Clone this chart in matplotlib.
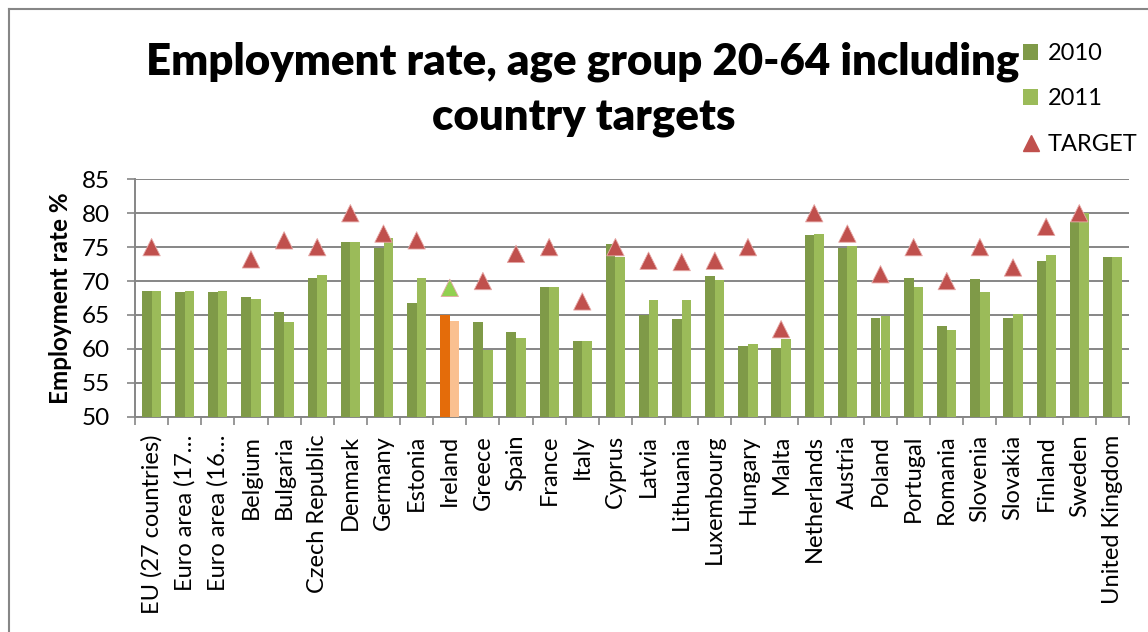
import numpy as np
import matplotlib.pyplot as plt
from matplotlib.patches import Patch
from matplotlib.lines import Line2D

plt.rcParams['font.family'] = ['Lato', 'DejaVu Sans']

countries = ["EU (27 countries)", "Euro area (17…", "Euro area (16…", "Belgium",
             "Bulgaria", "Czech Republic", "Denmark", "Germany", "Estonia", "Ireland",
             "Greece", "Spain", "France", "Italy", "Cyprus", "Latvia", "Lithuania",
             "Luxembourg", "Hungary", "Malta", "Netherlands", "Austria", "Poland",
             "Portugal", "Romania", "Slovenia", "Slovakia", "Finland", "Sweden",
             "United Kingdom"]

rate_2010 = [68.6, 68.4, 68.4, 67.6, 65.4, 70.4, 75.8, 74.9, 66.7, 65.0,
             64.0, 62.5, 69.1, 61.1, 75.4, 65.0, 64.4, 70.7, 60.4, 60.1,
             76.8, 74.9, 64.6, 70.5, 63.3, 70.3, 64.6, 73.0, 78.7, 73.6]

rate_2011 = [68.6, 68.5, 68.5, 67.3, 63.9, 70.9, 75.7, 76.3, 70.4, 64.1,
             59.9, 61.6, 69.1, 61.2, 73.6, 67.2, 67.2, 70.1, 60.7, 61.5,
             77.0, 75.2, 64.8, 69.1, 62.8, 68.4, 65.1, 73.8, 80.0, 73.6]

# national Europe 2020 targets (none for the euro-area aggregates and the UK)
target = [75, np.nan, np.nan, 73.2, 76, 75, 80, 77, 76, 69,
          70, 74, 75, 67, 75, 73, 72.8, 73, 75, 62.9,
          80, 77, 71, 75, 70, 75, 72, 78, 80, np.nan]

highlight = "Ireland"

green_dark = '#7F9A48'
green_light = '#9BBB59'
orange_dark = '#E46C0A'
orange_light = '#FAC090'
red_tri = '#C0504D'
green_tri = '#92D050'
grey = '#868686'

W, H = 1148, 632
fig = plt.figure(figsize=(W / 100, H / 100), dpi=100)
ax = fig.add_axes([135 / W, 1 - 416.7 / H, 994 / W, 237.4 / H])

x = np.arange(len(countries))
w = 0.29
col_a = [orange_dark if c == highlight else green_dark for c in countries]
col_b = [orange_light if c == highlight else green_light for c in countries]
col_t = [green_tri if c == highlight else red_tri for c in countries]

ax.bar(x - w / 2, rate_2010, w, color=col_a, zorder=3)
ax.bar(x + w / 2, rate_2011, w, color=col_b, zorder=3)
ax.scatter(x, target, marker='^', s=12.5 ** 2, c=col_t, edgecolors='#e6a8a6',
           linewidths=0.6, zorder=4, clip_on=False)

ax.set_xlim(-0.5, len(countries) - 0.5)
ax.set_ylim(50, 85)
ax.set_yticks(range(50, 86, 5))
ax.yaxis.grid(True, color=grey, linewidth=1.4, zorder=0)
ax.set_axisbelow(True)

ax.set_xticks(x)
ax.set_xticklabels(countries, rotation=90, ha='center', va='top', fontsize=17)
ax.set_xticks(np.arange(len(countries) + 1) - 0.5, minor=True)
ax.tick_params(axis='x', which='major', length=0, pad=13)
ax.tick_params(axis='x', which='minor', length=6, width=1.2, color=grey)
ax.tick_params(axis='y', length=6, width=1.2, color=grey, pad=12, labelsize=17.5)

for s in ['top', 'right']:
    ax.spines[s].set_visible(False)
for s in ['left', 'bottom']:
    ax.spines[s].set_color(grey)
    ax.spines[s].set_linewidth(1.4)

ax.set_ylabel('Employment rate %', fontsize=17.5, fontweight='bold', labelpad=7)

fig.text(583 / W, 1 - 75 / H, 'Employment rate, age group 20-64 including',
         ha='center', va='baseline', fontsize=31.5, fontweight='heavy')
fig.text(584 / W, 1 - 130 / H, 'country targets',
         ha='center', va='baseline', fontsize=31.5, fontweight='heavy')

handles = [Patch(facecolor=green_dark), Patch(facecolor=green_light),
           Line2D([], [], marker='^', linestyle='none', color=red_tri, markersize=12)]
fig.legend(handles, ['2010', '2011', 'TARGET'], loc='upper left',
           bbox_to_anchor=(1023 / W, 1 - 43 / H), frameon=False, fontsize=17,
           handlelength=0.65, handleheight=0.65, handletextpad=0.4,
           labelspacing=1.03, borderpad=0, borderaxespad=0)

# outer chart frame (only top and left edges fall inside the image)
fig.add_artist(Line2D([9 / W, 1], [1 - 9 / H, 1 - 9 / H], transform=fig.transFigure,
                      color=grey, linewidth=1.5))
fig.add_artist(Line2D([9 / W, 9 / W], [0, 1 - 9 / H], transform=fig.transFigure,
                      color=grey, linewidth=1.5))

fig.savefig('out.png', dpi=100)
